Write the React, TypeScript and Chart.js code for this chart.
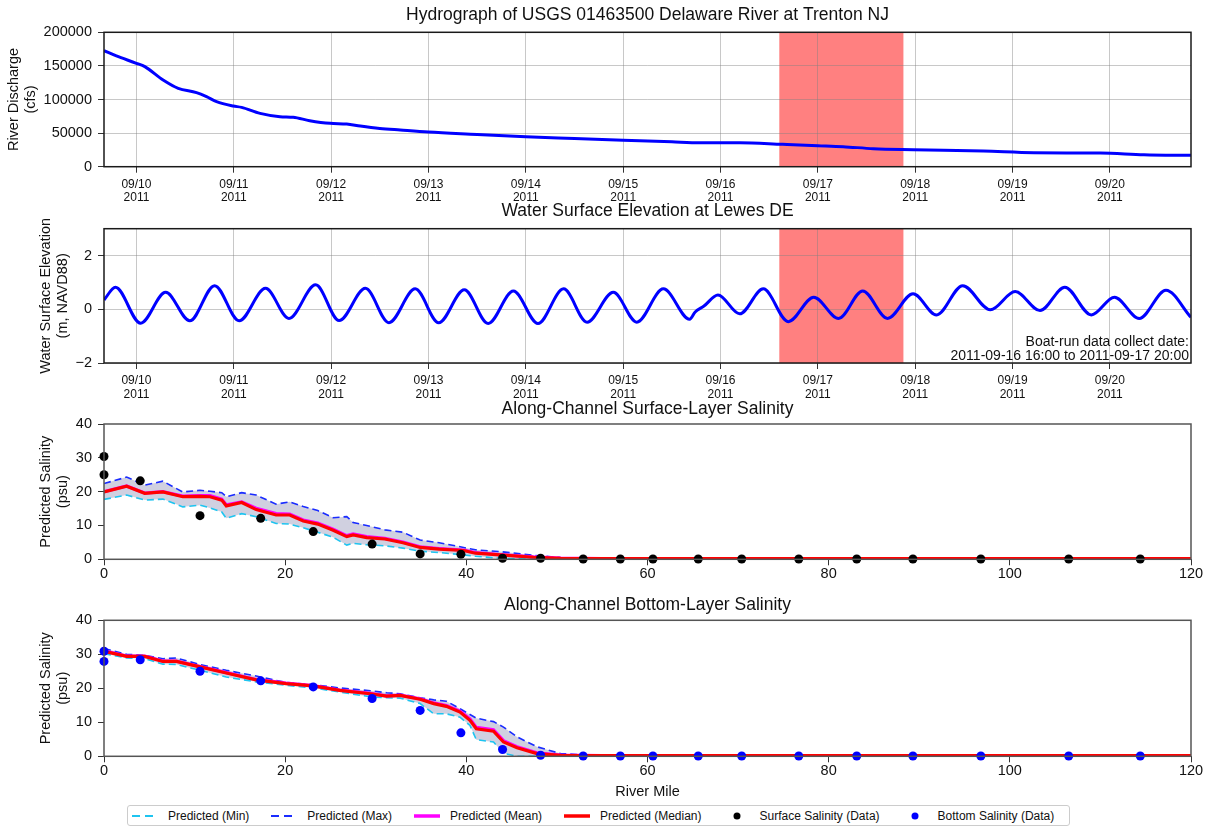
import React, { useEffect, useRef } from 'react';
import { Chart, registerables } from 'chart.js';

Chart.register(...registerables);

const FONT = "'Liberation Sans', Arial, Helvetica, sans-serif";
Chart.defaults.font.family = FONT;

// ---------- Panel 1: discharge ----------
const DISCHARGE_DAY = [9.667, 9.794, 10.0, 10.086, 10.274, 10.429, 10.617, 10.72, 10.823, 10.995, 11.08, 11.27, 11.475, 11.61, 11.78, 11.99, 12.16, 12.3, 12.5, 12.71, 13.0, 13.5, 14.0, 14.5, 15.0, 15.5, 15.79, 16.2, 16.64, 17.0, 17.26, 17.57, 17.98, 18.7, 19.22, 19.9, 20.35, 20.833];
const DISCHARGE_CFS = [172700, 164800, 153900, 148900, 129000, 116600, 110200, 104200, 96800, 90300, 88300, 79400, 74400, 73500, 68500, 64500, 63500, 60500, 57000, 54600, 51500, 48000, 44500, 42000, 39500, 37000, 35700, 35700, 33300, 31300, 29800, 26800, 25300, 23300, 20800, 20300, 17900, 16900];
const DISCHARGE_TICKS = [0, 50000, 100000, 150000, 200000];

// ---------- Panel 2: water surface elevation ----------
const TIDE_DAY = [9.667, 9.784, 10.043, 10.3, 10.548, 10.803, 11.055, 11.326, 11.567, 11.841, 12.082, 12.352, 12.594, 12.864, 13.105, 13.368, 13.613, 13.872, 14.125, 14.388, 14.629, 14.899, 15.14, 15.413, 15.683, 15.74, 15.83, 15.974, 16.197, 16.44, 16.696, 16.958, 17.213, 17.461, 17.716, 17.978, 18.219, 18.488, 18.772, 19.027, 19.282, 19.537, 19.81, 20.047, 20.302, 20.576, 20.833];
const TIDE_M = [0.35, 0.82, -0.52, 0.63, -0.43, 0.88, -0.43, 0.78, -0.34, 0.91, -0.42, 0.78, -0.5, 0.76, -0.5, 0.73, -0.53, 0.68, -0.53, 0.76, -0.48, 0.63, -0.48, 0.76, -0.37, -0.1, 0.12, 0.53, -0.17, 0.76, -0.46, 0.45, -0.34, 0.68, -0.34, 0.58, -0.21, 0.88, -0.02, 0.66, -0.05, 0.82, -0.21, 0.45, -0.34, 0.71, -0.3];
const ELEV_TICKS = [-2, 0, 2];

// shared date axis
const DAY_MIN = 9.6667;
const DAY_MAX = 20.8333;
const DAY_TICKS = [10, 11, 12, 13, 14, 15, 16, 17, 18, 19, 20];
const DATE_LABELS = ['09/10', '09/11', '09/12', '09/13', '09/14', '09/15', '09/16', '09/17', '09/18', '09/19', '09/20'];
const YEAR_LABEL = '2011';
const SPAN_START = 16.604;
const SPAN_END = 17.879;
const BOAT_TEXT = ['Boat-run data collect date:', '2011-09-16 16:00 to 2011-09-17 20:00'];

// ---------- Panel 3: surface salinity ----------
const SURF_MILE = [0, 2.5, 4.5, 6.5, 8.7, 10.6, 11.7, 13.0, 13.5, 15.2, 16.8, 19.0, 20.5, 22.0, 23.6, 25.3, 26.8, 27.5, 29.0, 31.0, 33.0, 34.9, 37.0, 39.7, 41.0, 43.7, 47.4, 50.4, 55.0, 120];
const SURF_MAX = [22.4, 24.3, 21.9, 23.1, 19.9, 20.4, 20.1, 19.7, 18.5, 19.7, 19.0, 16.3, 17.0, 15.6, 14.4, 12.3, 12.6, 10.9, 10.0, 8.7, 8.0, 5.7, 4.9, 3.5, 2.8, 2.3, 1.2, 0.5, 0.1, 0.05];
const SURF_MEDIAN = [19.9, 21.6, 19.5, 19.9, 18.5, 18.6, 18.5, 17.5, 15.8, 16.8, 14.7, 13.1, 13.1, 11.3, 10.4, 8.6, 6.7, 7.2, 6.4, 6.0, 4.9, 3.5, 3.0, 2.6, 1.8, 1.3, 0.6, 0.3, 0.2, 0.2];
const SURF_MEAN = [20.0, 21.7, 19.6, 20.0, 18.7, 18.8, 18.8, 17.8, 16.1, 17.0, 15.1, 13.5, 13.4, 11.6, 10.7, 8.9, 7.0, 7.5, 6.7, 6.2, 5.1, 3.7, 3.2, 2.7, 2.0, 1.4, 0.7, 0.35, 0.2, 0.2];
const SURF_MIN = [17.7, 19.0, 17.5, 17.8, 15.5, 16.0, 15.2, 14.0, 12.1, 13.5, 12.6, 10.6, 10.4, 9.3, 8.0, 6.5, 4.2, 4.7, 4.3, 4.0, 3.3, 2.4, 2.0, 1.3, 0.9, 0.3, 0.0, 0.0, 0.0, 0.0];

// ---------- Panel 4: bottom salinity ----------
const BOT_MILE = [0, 2.5, 4.5, 6.5, 8.0, 10.6, 13.5, 16.8, 20.1, 23.1, 26.0, 29.4, 31.2, 32.7, 34.9, 36.4, 37.8, 39.3, 40.4, 41.1, 43.0, 44.1, 45.6, 47.8, 50.4, 55.0, 120];
const BOT_MAX = [31.7, 30.0, 29.7, 28.7, 28.9, 27.0, 25.3, 23.6, 21.7, 21.1, 20.1, 19.3, 18.7, 18.4, 17.2, 16.6, 16.2, 14.0, 12.3, 11.2, 10.2, 8.6, 5.7, 2.8, 0.8, 0.1, 0.05];
const BOT_MEDIAN = [30.9, 29.4, 29.4, 27.9, 27.9, 26.3, 24.5, 22.5, 21.4, 20.7, 19.4, 18.4, 17.7, 17.9, 16.8, 15.5, 14.7, 13.0, 10.6, 8.1, 7.4, 4.2, 2.5, 0.8, 0.3, 0.2, 0.2];
const BOT_MEAN = [31.0, 29.5, 29.5, 28.0, 28.0, 26.4, 24.6, 22.6, 21.5, 20.8, 19.5, 18.5, 17.8, 18.0, 16.9, 15.7, 14.9, 13.3, 11.0, 8.5, 7.8, 4.6, 2.8, 1.0, 0.35, 0.2, 0.2];
const BOT_MIN = [30.2, 28.9, 28.7, 27.1, 27.0, 25.3, 23.3, 21.9, 20.9, 20.1, 18.9, 17.5, 17.2, 17.1, 15.5, 12.5, 12.5, 11.5, 9.1, 4.9, 4.2, 0.9, 0.0, 0.0, 0.0, 0.0, 0.0];

// observations (boat run stations)
const OBS_MILE = [0, 0, 4.0, 10.6, 17.3, 23.1, 29.6, 34.9, 39.4, 44.0, 48.2, 52.9, 57.0, 60.6, 65.6, 70.4, 76.7, 83.1, 89.3, 96.8, 106.5, 114.4];
const SURF_OBS = [30.4, 25.0, 23.2, 12.9, 12.1, 8.2, 4.5, 1.6, 1.5, 0.3, 0.3, 0.1, 0.1, 0.1, 0.1, 0.1, 0.1, 0.1, 0.1, 0.1, 0.1, 0.1];
const BOT_OBS = [30.9, 27.9, 28.4, 25.0, 22.2, 20.4, 17.0, 13.5, 6.9, 2.0, 0.3, 0.1, 0.1, 0.1, 0.1, 0.1, 0.1, 0.1, 0.1, 0.1, 0.1, 0.1];

const MILE_TICKS = [0, 20, 40, 60, 80, 100, 120];
const SAL_TICKS = [0, 10, 20, 30, 40];

const TITLES = [
  'Hydrograph of USGS 01463500 Delaware River at Trenton NJ',
  'Water Surface Elevation at Lewes DE',
  'Along-Channel Surface-Layer Salinity',
  'Along-Channel Bottom-Layer Salinity',
];
const LEGEND_LABELS = ['Predicted (Min)', 'Predicted (Max)', 'Predicted (Mean)', 'Predicted (Median)', 'Surface Salinity (Data)', 'Bottom Salinity (Data)'];

// ---------- styles ----------
const TEXT = '#111111';
const GRID = 'rgba(128,128,128,0.43)';
const TICKMARK = '#333333';
const BLUE = '#0000ff';
const CYAN = '#1ec4f0';
const DARKBLUE = '#1a2cff';
const MAGENTA = '#ff00ff';
const RED = '#ff0000';
const FILL = 'rgba(120,120,165,0.35)';
const SPAN = '#ff8080';

const pts = (xs: number[], ys: number[]) => xs.map((x, i) => ({ x, y: ys[i] }));

function framePlugin(color: string) {
  return {
    id: 'frame',
    afterDraw(chart: any) {
      const { ctx, chartArea: a } = chart;
      ctx.save();
      ctx.strokeStyle = color;
      ctx.lineWidth = 1.5;
      ctx.strokeRect(a.left, a.top, a.right - a.left, a.bottom - a.top);
      ctx.restore();
    },
  };
}

// axes title centred over the plot area (like matplotlib's ax.set_title)
function axesTitlePlugin(text: string, centerY: number) {
  return {
    id: 'axesTitle',
    afterDraw(chart: any) {
      const { ctx, chartArea: a } = chart;
      ctx.save();
      ctx.font = `17.5px ${FONT}`;
      ctx.fillStyle = TEXT;
      ctx.textAlign = 'center';
      ctx.textBaseline = 'middle';
      ctx.fillText(text, (a.left + a.right) / 2, centerY);
      ctx.restore();
    },
  };
}

const spanPlugin = {
  id: 'span',
  beforeDraw(chart: any) {
    const { ctx, chartArea: a, scales } = chart;
    const x0 = scales.x.getPixelForValue(SPAN_START);
    const x1 = scales.x.getPixelForValue(SPAN_END);
    ctx.save();
    ctx.fillStyle = SPAN;
    ctx.fillRect(x0, a.top, x1 - x0, a.bottom - a.top);
    ctx.restore();
  },
};

const boatTextPlugin = {
  id: 'boatText',
  afterDraw(chart: any) {
    const { ctx, chartArea: a } = chart;
    ctx.save();
    ctx.font = `14px ${FONT}`;
    ctx.fillStyle = TEXT;
    ctx.textAlign = 'right';
    ctx.textBaseline = 'alphabetic';
    ctx.fillText(BOAT_TEXT[0], a.right - 2, a.bottom - 17);
    ctx.fillText(BOAT_TEXT[1], a.right - 2, a.bottom - 3);
    ctx.restore();
  },
};

function yAxis(min: number, max: number, ticks: number[], title: string[], titlePad: number, grid: boolean) {
  return {
    type: 'linear',
    min,
    max,
    afterBuildTicks: (s: any) => {
      s.ticks = ticks.map((v) => ({ value: v }));
    },
    afterFit: (s: any) => {
      s.width = 104;
    },
    grid: { display: true, drawOnChartArea: grid, color: GRID, lineWidth: 1, tickLength: 6, tickColor: TICKMARK, tickWidth: 1 },
    border: { display: false },
    ticks: {
      font: { family: FONT, size: 14.5 },
      color: TEXT,
      padding: 6,
      callback: (v: number) => (v < 0 ? '\u2212' + Math.abs(v) : String(v)),
    },
    title: {
      display: true,
      text: title,
      color: TEXT,
      font: { family: FONT, size: 14.5, lineHeight: 1.17 },
      padding: { top: titlePad, bottom: 0 },
    },
  };
}

function dateXAxis(height: number) {
  return {
    type: 'linear',
    min: DAY_MIN,
    max: DAY_MAX,
    afterBuildTicks: (s: any) => {
      s.ticks = DAY_TICKS.map((v) => ({ value: v }));
    },
    afterFit: (s: any) => {
      s.height = height;
    },
    grid: { display: true, color: GRID, lineWidth: 1, tickLength: 6, tickColor: TICKMARK, tickWidth: 1 },
    border: { display: false },
    ticks: {
      font: { family: FONT, size: 12, lineHeight: 1.1 },
      color: TEXT,
      padding: 5.4,
      maxRotation: 0,
      autoSkip: false,
      callback: (_v: number, i: number) => [DATE_LABELS[i], YEAR_LABEL],
    },
  };
}

function mileXAxis(height: number, title?: string) {
  return {
    type: 'linear',
    min: 0,
    max: 120,
    afterBuildTicks: (s: any) => {
      s.ticks = MILE_TICKS.map((v) => ({ value: v }));
    },
    afterFit: (s: any) => {
      s.height = height;
    },
    grid: { display: true, drawOnChartArea: false, tickLength: 6, tickColor: TICKMARK, tickWidth: 1 },
    border: { display: false },
    ticks: {
      font: { family: FONT, size: 14.5 },
      color: TEXT,
      padding: 0,
      maxRotation: 0,
      autoSkip: false,
      callback: (v: number) => String(v),
    },
    title: title
      ? { display: true, text: title, color: TEXT, font: { family: FONT, size: 14.5, lineHeight: 1.17 }, padding: { top: 0, bottom: 4.5 } }
      : { display: false },
  };
}

const baseOptions = (padTop: number) => ({
  responsive: false,
  animation: false,
  devicePixelRatio: 1,
  layout: { padding: { left: 0, right: 18, top: padTop, bottom: 0 } },
  events: [],
});

function makeDischarge() {
  return {
    type: 'line',
    data: {
      datasets: [
        { data: pts(DISCHARGE_DAY, DISCHARGE_CFS), borderColor: BLUE, borderWidth: 3, pointRadius: 0, cubicInterpolationMode: 'monotone', fill: false },
      ],
    },
    options: {
      ...baseOptions(32.3),
      plugins: { legend: { display: false }, tooltip: { enabled: false }, title: { display: false } },
      scales: { x: dateXAxis(38.3), y: yAxis(0, 200000, DISCHARGE_TICKS, ['River Discharge', '(cfs)'], 5.5, true) },
    },
    plugins: [spanPlugin, framePlugin('#1a1a1a'), axesTitlePlugin(TITLES[0], 14.8)],
  };
}

function makeTide() {
  return {
    type: 'line',
    data: {
      datasets: [
        { data: pts(TIDE_DAY, TIDE_M), borderColor: BLUE, borderWidth: 3, pointRadius: 0, cubicInterpolationMode: 'monotone', fill: false },
      ],
    },
    options: {
      ...baseOptions(28.7),
      plugins: { legend: { display: false }, tooltip: { enabled: false }, title: { display: false } },
      scales: { x: dateXAxis(42), y: yAxis(-2, 3, ELEV_TICKS, ['Water Surface Elevation', '(m, NAVD88)'], 37.5, true) },
    },
    plugins: [spanPlugin, boatTextPlugin, framePlugin('#1a1a1a'), axesTitlePlugin(TITLES[1], 11.4)],
  };
}

function salinityDatasets(miles: number[], mn: number[], mx: number[], mean: number[], median: number[], obs: number[], obsColor: string) {
  return [
    { data: pts(OBS_MILE, obs), showLine: false, pointRadius: 4.5, pointBorderWidth: 0, pointBackgroundColor: obsColor, borderColor: obsColor, clip: false },
    { data: pts(miles, median), borderColor: RED, borderWidth: 3.2, pointRadius: 0, fill: false },
    { data: pts(miles, mean), borderColor: MAGENTA, borderWidth: 3.2, pointRadius: 0, fill: false },
    { data: pts(miles, mx), borderColor: DARKBLUE, borderWidth: 1.6, borderDash: [7, 4], pointRadius: 0, fill: 4, backgroundColor: FILL },
    { data: pts(miles, mn), borderColor: CYAN, borderWidth: 1.6, borderDash: [7, 4], pointRadius: 0, fill: false },
  ];
}

function makeSurface() {
  return {
    type: 'line',
    data: { datasets: salinityDatasets(SURF_MILE, SURF_MIN, SURF_MAX, SURF_MEAN, SURF_MEDIAN, SURF_OBS, '#000000') },
    options: {
      ...baseOptions(29),
      plugins: { legend: { display: false }, tooltip: { enabled: false }, filler: { propagate: false, drawTime: 'beforeDatasetsDraw' }, title: { display: false } },
      scales: { x: mileXAxis(30.7), y: yAxis(0, 40, SAL_TICKS, ['Predicted Salinity', '(psu)'], 37.5, false) },
    },
    plugins: [framePlugin('#555555'), axesTitlePlugin(TITLES[2], 14)],
  };
}

function makeBottom() {
  return {
    type: 'line',
    data: { datasets: salinityDatasets(BOT_MILE, BOT_MIN, BOT_MAX, BOT_MEAN, BOT_MEDIAN, BOT_OBS, '#0000ff') },
    options: {
      ...baseOptions(30.3),
      plugins: { legend: { display: false }, tooltip: { enabled: false }, filler: { propagate: false, drawTime: 'beforeDatasetsDraw' }, title: { display: false } },
      scales: { x: mileXAxis(48.7, 'River Mile'), y: yAxis(0, 40, SAL_TICKS, ['Predicted Salinity', '(psu)'], 37.5, false) },
    },
    plugins: [framePlugin('#555555'), axesTitlePlugin(TITLES[3], 15.3)],
  };
}

function ChartCanvas({ top, height, make }: { top: number; height: number; make: () => any }) {
  const ref = useRef<HTMLCanvasElement>(null);
  useEffect(() => {
    const chart = new Chart(ref.current as HTMLCanvasElement, make());
    return () => chart.destroy();
  }, []);
  return (
    <canvas
      ref={ref}
      width={1209}
      height={height}
      style={{ position: 'absolute', left: 0, top, width: 1209, height, display: 'block' }}
    />
  );
}

function LegendSample({ i }: { i: number }) {
  if (i === 0) return <line x1={0} y1={5} x2={26} y2={5} stroke={CYAN} strokeWidth={2} strokeDasharray="8 5" />;
  if (i === 1) return <line x1={0} y1={5} x2={26} y2={5} stroke={DARKBLUE} strokeWidth={2} strokeDasharray="8 5" />;
  if (i === 2) return <line x1={0} y1={5} x2={26} y2={5} stroke={MAGENTA} strokeWidth={3.5} />;
  if (i === 3) return <line x1={0} y1={5} x2={26} y2={5} stroke={RED} strokeWidth={3.5} />;
  if (i === 4) return <circle cx={13} cy={5} r={3.5} fill="#000000" />;
  return <circle cx={13} cy={5} r={3.5} fill="#0000ff" />;
}

function Legend() {
  return (
    <div
      style={{
        position: 'absolute',
        left: 127,
        top: 805,
        width: 943,
        height: 21,
        border: '1px solid #cccccc',
        borderRadius: 3,
        boxSizing: 'border-box',
        display: 'flex',
        alignItems: 'center',
        paddingLeft: 4,
        fontSize: 12,
        fontFamily: FONT,
        color: TEXT,
        whiteSpace: 'nowrap',
        background: '#ffffff',
      }}
    >
      {LEGEND_LABELS.map((label, i) => (
        <div key={label} style={{ display: 'flex', alignItems: 'center', marginRight: 22 }}>
          <svg width={26} height={10} style={{ marginRight: 10, display: 'block' }}>
            <LegendSample i={i} />
          </svg>
          <span>{label}</span>
        </div>
      ))}
    </div>
  );
}

export default function App() {
  return (
    <div style={{ position: 'absolute', left: 0, top: 0, width: 1209, height: 827, background: '#ffffff', fontFamily: FONT, overflow: 'hidden' }}>
      <ChartCanvas top={0} height={205} make={makeDischarge} />
      <ChartCanvas top={200} height={205} make={makeTide} />
      <ChartCanvas top={395} height={195} make={makeSurface} />
      <ChartCanvas top={590} height={215} make={makeBottom} />
      <Legend />
    </div>
  );
}
